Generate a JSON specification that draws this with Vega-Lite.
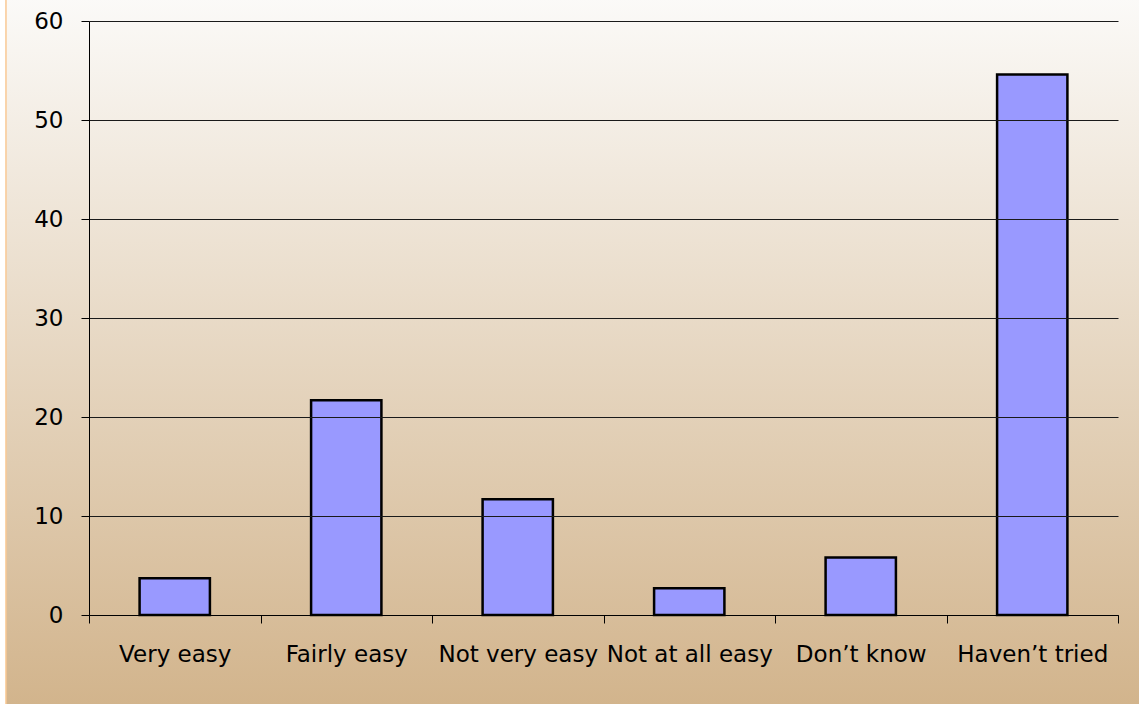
{
  "$schema": "https://vega.github.io/schema/vega-lite/v6.json",
  "width": 1029,
  "height": 594,
  "autosize": {"type": "none"},
  "padding": {"left": 89, "top": 21, "right": 21, "bottom": 89},
  "background": "#FFFFFF",
  "config": {
    "view": {"stroke": null},
    "font": "DejaVu Sans",
    "axis": {
      "labelFont": "DejaVu Sans",
      "labelColor": "#000000",
      "labelFontSize": 23,
      "domainColor": "#000000",
      "domainWidth": 1,
      "tickColor": "#000000",
      "tickWidth": 1,
      "tickSize": 8,
      "title": null
    }
  },
  "data": {
    "values": [
      {"answer": "Very easy", "percent": 3.7},
      {"answer": "Fairly easy", "percent": 21.7},
      {"answer": "Not very easy", "percent": 11.7},
      {"answer": "Not at all easy", "percent": 2.7},
      {"answer": "Don’t know", "percent": 5.8},
      {"answer": "Haven’t tried", "percent": 54.6}
    ]
  },
  "layer": [
    {
      "data": {"values": [{"panel": "chart area"}]},
      "mark": {
        "type": "rect",
        "zindex": 0,
        "stroke": "#F9C995",
        "strokeWidth": 1.5,
        "fill": {
          "gradient": "linear",
          "x1": 0, "y1": 0, "x2": 0, "y2": 1,
          "stops": [
            {"offset": 0, "color": "#FBFAF8"},
            {"offset": 1, "color": "#D2B48C"}
          ]
        }
      },
      "encoding": {
        "x": {"datum": -0.0807, "type": "quantitative", "scale": {"domain": [0, 1], "nice": false, "zero": false}, "axis": null},
        "x2": {"datum": 1.05},
        "y": {"datum": -9.2, "type": "quantitative", "scale": {"domain": [0, 60], "nice": false}, "axis": null},
        "y2": {"datum": 62.3}
      }
    },
    {
      "mark": {
        "type": "bar",
        "zindex": 2,
        "fill": "#9999FF",
        "stroke": "#000000",
        "strokeWidth": 2.5,
        "width": {"band": 0.41}
      },
      "encoding": {
        "x": {
          "field": "answer",
          "type": "nominal",
          "sort": null,
          "scale": {"paddingInner": 0, "paddingOuter": 0},
          "axis": {
            "orient": "bottom",
            "zindex": 1,
            "labelAngle": 0,
            "tickBand": "extent",
            "labelPadding": 20,
            "grid": false
          }
        },
        "y": {
          "field": "percent",
          "type": "quantitative",
          "scale": {"domain": [0, 60], "nice": false},
          "axis": {
            "orient": "left",
            "zindex": 1,
            "values": [0, 10, 20, 30, 40, 50, 60],
            "grid": true,
            "gridColor": "#1A1A1A",
            "gridWidth": 1,
            "labelPadding": 18
          }
        }
      }
    }
  ],
  "resolve": {"scale": {"x": "independent", "y": "independent"}}
}
